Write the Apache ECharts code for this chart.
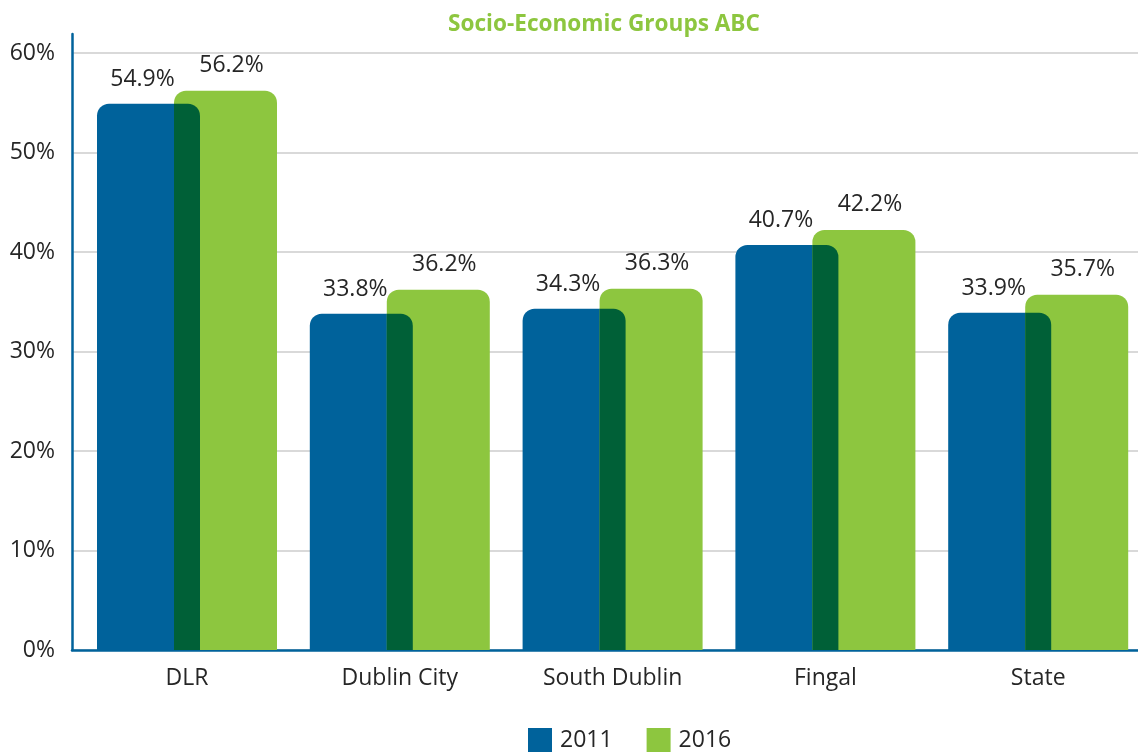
<!DOCTYPE html>
<html>
<head>
<meta charset="utf-8">
<script src="https://cdn.jsdelivr.net/npm/echarts@6/dist/echarts.min.js"></script>
<style>html,body{margin:0;padding:0;background:#fff}#chart{width:1138px;height:752px}</style>
</head>
<body>
<div id="chart"></div>
<script>
const title = 'Socio-Economic Groups ABC';
const categories = ['DLR', 'Dublin City', 'South Dublin', 'Fingal', 'State'];
const seriesNames = ['2011', '2016'];
const values2011 = [54.9, 33.8, 34.3, 40.7, 33.9];
const values2016 = [56.2, 36.2, 36.3, 42.2, 35.7];
const yTicks = [0, 10, 20, 30, 40, 50, 60];

const BLUE = '#00629b', GREEN = '#8dc63f', DARK = '#006037';
const BAR_W = 103, OVERLAP = 26, RADIUS = 12;
const FONT = '"Open Sans", "Noto Sans", sans-serif';
const TXT = '#262626';

const overlapData = categories.map((c, i) => [i, Math.min(values2011[i], values2016[i]), values2011[i] <= values2016[i] ? 1 : 0]);

const chart = echarts.init(document.getElementById('chart'), null, {renderer: 'canvas'});
chart.setOption({
  backgroundColor: '#fff',
  animation: false,
  title: {
    text: title, left: 599, textAlign: 'center', top: 8,
    textStyle: {color: GREEN, fontFamily: FONT, fontWeight: 'bold', fontSize: 22.6}
  },
  legend: {
    data: seriesNames, top: 723, left: 523, icon: 'rect', itemWidth: 24, itemHeight: 24, itemGap: 34,
    textStyle: {color: TXT, fontFamily: FONT, fontSize: 23, padding: [0, 0, 0, 3]}
  },
  grid: [
    {left: 80.6, top: 53, bottom: 102, width: 1064, outerBoundsMode: 'none'},
    {left: 72, top: 53, bottom: 102, right: 0, outerBoundsMode: 'none'},
    {left: 72, top: 34, bottom: 102, right: 0, outerBoundsMode: 'none'}
  ],
  xAxis: [
    {type: 'category', gridIndex: 0, data: categories, axisLine: {show: false}, axisTick: {show: false},
     axisLabel: {color: TXT, fontFamily: FONT, fontSize: 23, margin: 17}},
    {type: 'category', gridIndex: 1, data: categories, axisLine: {show: true, lineStyle: {color: BLUE, width: 2.5}},
     axisTick: {show: false}, axisLabel: {show: false}},
    {type: 'category', gridIndex: 2, data: categories, show: false}
  ],
  yAxis: [
    {type: 'value', gridIndex: 0, min: yTicks[0], max: yTicks[yTicks.length - 1], interval: 10,
     axisLine: {show: false}, axisTick: {show: false}, axisLabel: {show: false}, splitLine: {show: false}},
    {type: 'value', gridIndex: 1, min: yTicks[0], max: yTicks[yTicks.length - 1], interval: 10,
     axisLine: {show: false}, axisTick: {show: false},
     axisLabel: {color: TXT, fontFamily: FONT, fontSize: 23, margin: 17, formatter: v => v + '%'},
     splitLine: {show: true, lineStyle: {color: '#cccccc', width: 1.5}}},
    {type: 'value', gridIndex: 2, min: 0, max: 10, axisLine: {show: true, lineStyle: {color: BLUE, width: 2.5}},
     axisTick: {show: false}, axisLabel: {show: false}, splitLine: {show: false}}
  ],
  series: [
    {
      name: seriesNames[0], type: 'bar', xAxisIndex: 0, yAxisIndex: 0, data: values2011,
      barWidth: BAR_W, barGap: (-OVERLAP / BAR_W * 100) + '%', z: 2,
      itemStyle: {color: BLUE, borderRadius: [RADIUS, RADIUS, 0, 0]},
      label: {show: true, position: 'top', distance: 13, offset: [-6, 0], formatter: p => p.value.toFixed(1) + '%',
              color: TXT, fontFamily: FONT, fontSize: 23}
    },
    {
      name: seriesNames[1], type: 'bar', xAxisIndex: 0, yAxisIndex: 0, data: values2016,
      barWidth: BAR_W, z: 3,
      itemStyle: {color: GREEN, borderRadius: [RADIUS, RADIUS, 0, 0]},
      label: {show: true, position: 'top', distance: 14, offset: [6, 0], formatter: p => p.value.toFixed(1) + '%',
              color: TXT, fontFamily: FONT, fontSize: 23}
    },
    {
      name: 'overlap', type: 'custom', xAxisIndex: 0, yAxisIndex: 0, data: overlapData, z: 4,
      silent: true, legendHoverLink: false,
      encode: {x: 0, y: 1},
      renderItem: function (params, api) {
        const top = api.coord([api.value(0), api.value(1)]);
        const base = api.coord([api.value(0), 0]);
        const blueLower = api.value(2) === 1;
        return {
          type: 'rect',
          shape: {x: top[0] - OVERLAP / 2, y: top[1], width: OVERLAP, height: base[1] - top[1],
                  r: blueLower ? [0, RADIUS, 0, 0] : [RADIUS, 0, 0, 0]},
          style: {fill: DARK}
        };
      }
    }
  ]
});
</script>
</body>
</html>
